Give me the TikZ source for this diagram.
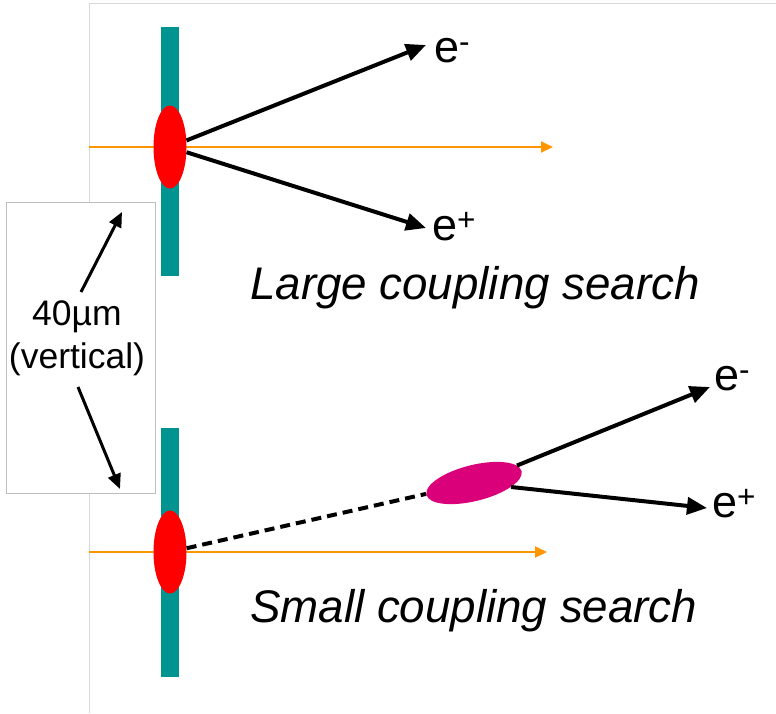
\documentclass[tikz,border=0pt]{standalone}
\usepackage{fontspec}
\setmainfont{Liberation Sans}
\usetikzlibrary{arrows.meta,shapes.geometric}
\definecolor{targetteal}{RGB}{0,148,144}
\definecolor{beamorange}{RGB}{255,150,0}
\definecolor{blobred}{RGB}{255,0,0}
\definecolor{blobmag}{RGB}{218,0,122}
\definecolor{framegray}{RGB}{215,215,215}
\definecolor{boxgray}{RGB}{190,190,190}
\begin{document}
\begin{tikzpicture}[x=1pt,y=-1pt,
  target/.style={fill=targetteal,minimum width=18pt,minimum height=249pt,inner sep=0pt},
  spot/.style={ellipse,fill=blobred,minimum width=33pt,minimum height=83pt,inner sep=0pt},
  decayspot/.style={ellipse,fill=blobmag,minimum width=98pt,minimum height=36pt,inner sep=0pt,rotate=14},
  beam/.style={draw=beamorange,line width=2pt,-{Triangle[length=12pt,width=11pt,fill=beamorange]}},
  track/.style={line width=4pt,-{Triangle[length=20pt,width=17pt]}},
  dimarrow/.style={line width=3pt,-{Triangle[length=15pt,width=13pt]}},
  elabel/.style={anchor=base west,inner sep=0pt,font=\fontsize{45}{50}\selectfont},
  caption/.style={anchor=base west,inner sep=0pt,font=\fontsize{45.7}{50}\selectfont\itshape},
]
\useasboundingbox (0,0) rectangle (776,713);
% frame
\coordinate (f1) at (89,713);
\coordinate (f2) at (89,3);
\coordinate (f3) at (776,3);
\draw[framegray,line width=1pt] (f1) -- (f2) -- (f3);
% dimension box
\node[draw=boxgray,fill=white,line width=1pt,minimum width=149pt,minimum height=291pt,inner sep=0pt] (dimbox) at (80.5,347.5) {};
\node[align=center,inner sep=0pt,font=\fontsize{35.5}{43}\selectfont] (dimtext) at (77,338) {40µm\\(vertical)};
\coordinate (da1) at (81,292);
\coordinate (da2) at (122,212);
\coordinate (db1) at (78,387);
\coordinate (db2) at (120,489);
\draw[dimarrow] (da1) -- (da2);
\draw[dimarrow] (db1) -- (db2);
% upper scene
\coordinate (b1s) at (89,147);
\coordinate (b1e) at (553,147);
\draw[beam] (b1s) -- (b1e);
\node[target] (t1) at (170,151.5) {};
\node[spot] (s1) at (170,147) {};
\coordinate (em1) at (426,45);
\coordinate (ep1) at (426,228);
\draw[track] (s1) -- (em1);
\draw[track] (s1) -- (ep1);
\node[elabel] (lem1) at (434,62) {e\textsuperscript{-}};
\node[elabel] (lep1) at (432,240) {e\textsuperscript{+}};
\node[caption] (cap1) at (250,299) {Large coupling search};
% lower scene
\coordinate (b2s) at (89,552);
\coordinate (b2e) at (547,552);
\draw[beam] (b2s) -- (b2e);
\node[target] (t2) at (170,552) {};
\node[spot] (s2) at (170,552) {};
\node[decayspot] (d2) at (474,483) {};
\draw[line width=4pt,dash pattern=on 10pt off 6pt] (s2) -- (d2);
\coordinate (em2) at (710,387);
\coordinate (ep2) at (707,508);
\draw[track] (d2) -- (em2);
\draw[track] (d2) -- (ep2);
\node[elabel] (lem2) at (714,390) {e\textsuperscript{-}};
\node[elabel] (lep2) at (712,517) {e\textsuperscript{+}};
\node[caption] (cap2) at (250,622) {Small coupling search};
\end{tikzpicture}
\end{document}
